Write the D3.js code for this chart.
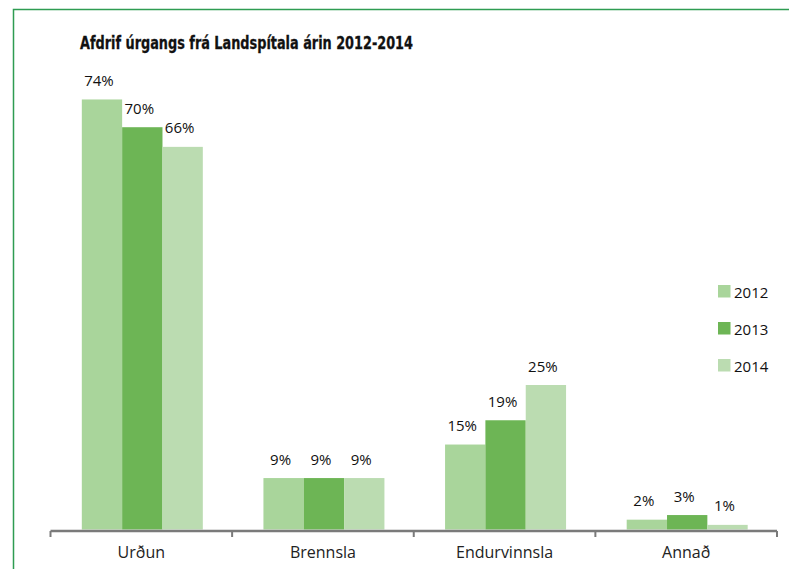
<!DOCTYPE html>
<html>
<head>
<meta charset="utf-8">
<script src="https://cdn.jsdelivr.net/npm/d3@7"></script>
<style>
  html, body { margin: 0; padding: 0; background: #fff; }
  svg { display: block; }
</style>
</head>
<body>
<svg id="chart" width="789" height="569"></svg>
<script>
const title = "Afdrif úrgangs frá Landspítala árin 2012-2014";
const categories = ["Urðun", "Brennsla", "Endurvinnsla", "Annað"];
const years = ["2012", "2013", "2014"];
const values2012 = [74.4, 8.9, 14.7, 1.7];
const values2013 = [69.6, 8.9, 18.9, 2.5];
const values2014 = [66.2, 8.9, 25.0, 0.8];
const colors = ["#a9d59b", "#6db555", "#bbdcb1"];

const series = [values2012, values2013, values2014];

const svg = d3.select("#chart");

// frame
svg.append("path")
  .attr("d", "M13.5,569 L13.5,9.5 L789,9.5")
  .attr("fill", "none")
  .attr("stroke", "#2e9c52")
  .attr("stroke-width", 1.5);

// title
svg.append("text")
  .attr("x", 80)
  .attr("y", 49)
  .attr("font-family", "'Liberation Sans Narrow', 'DejaVu Sans Condensed', 'Open Sans', sans-serif")
  .attr("font-weight", "bold")
  .attr("font-size", 18.5)
  .attr("fill", "#111")
  .attr("stroke", "#111")
  .attr("stroke-width", 0.3)
  .attr("textLength", 333)
  .attr("lengthAdjust", "spacingAndGlyphs")
  .text(title);

const baseY = 529.5;
const y = d3.scaleLinear().domain([0, 80]).range([baseY, baseY - 80 * 5.78]);

const xOuter = d3.scaleBand().domain(categories).range([50.5, 777]);
const groupW = 121;
const xIn = d3.scaleBand().domain(years).range([0, groupW]);
const groupX = c => xOuter(c) + (xOuter.bandwidth() - groupW) / 2 + 1;

const g = svg.append("g");
years.forEach((yr, si) => {
  g.selectAll(".bar" + si)
    .data(categories.map((c, i) => ({ c, v: series[si][i] })))
    .enter().append("rect")
    .attr("x", d => groupX(d.c) + xIn(yr))
    .attr("y", d => y(d.v))
    .attr("width", xIn.bandwidth())
    .attr("height", d => baseY - y(d.v))
    .attr("fill", colors[si]);

  g.selectAll(".lab" + si)
    .data(categories.map((c, i) => ({ c, v: series[si][i] })))
    .enter().append("text")
    .attr("x", d => groupX(d.c) + xIn(yr) + xIn.bandwidth() / 2 - 3)
    .attr("y", d => y(d.v) - 13.5)
    .attr("text-anchor", "middle")
    .attr("font-family", "'Open Sans', sans-serif")
    .attr("font-size", 15)
    .attr("fill", "#111")
    .text(d => Math.round(d.v) + "%");
});

// axis
const axisY = 531;
const axis = d3.axisBottom(xOuter).tickSize(0).tickPadding(16);
const ag = svg.append("g").attr("transform", `translate(0,${axisY})`).call(axis);
ag.select(".domain").attr("stroke", "#7a7a7a").attr("stroke-width", 2.5)
  .attr("d", `M${xOuter.range()[0]},0H${xOuter.range()[1]}`);
ag.selectAll(".tick text")
  .attr("font-family", "'Open Sans', sans-serif")
  .attr("font-size", 16)
  .attr("fill", "#222");
const edges = categories.map(c => xOuter(c)).concat([xOuter.range()[1]]);
ag.selectAll(".edge").data(edges).enter().append("line")
  .attr("x1", d => d).attr("x2", d => d)
  .attr("y1", 0).attr("y2", 6)
  .attr("stroke", "#7a7a7a").attr("stroke-width", 2);

// legend
const lg = svg.append("g").attr("transform", "translate(718,285)");
years.forEach((yr, i) => {
  lg.append("rect").attr("x", 0).attr("y", i * 37).attr("width", 12.5).attr("height", 12.5).attr("fill", colors[i]);
  lg.append("text").attr("x", 16).attr("y", i * 37 + 12.5)
    .attr("font-family", "'Open Sans', sans-serif")
    .attr("font-size", 15)
    .attr("fill", "#111")
    .text(yr);
});
</script>
</body>
</html>
